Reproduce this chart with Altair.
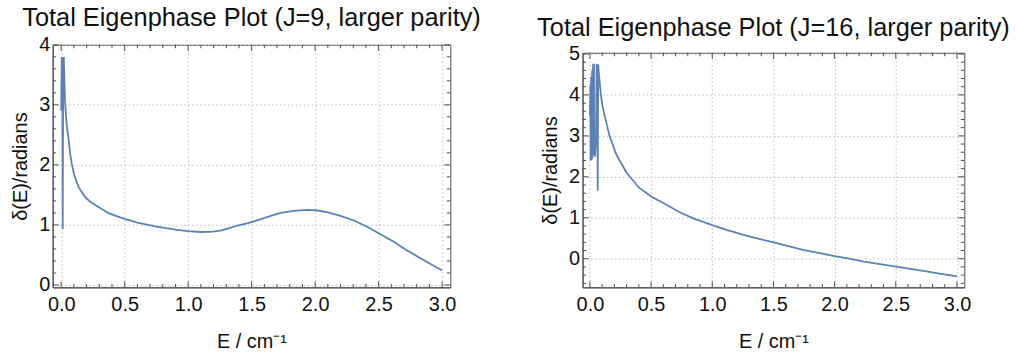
import altair as alt
import pandas as pd

# ---- data ----
E9 = [0.0, 0.004, 0.009, 0.012, 0.016, 0.021, 0.03, 0.044, 0.057, 0.07, 0.083, 0.1,
      0.12, 0.14, 0.17, 0.2, 0.24, 0.3, 0.37, 0.43, 0.5, 0.6, 0.685, 0.75, 0.815,
      0.9, 1.0, 1.1, 1.2, 1.26, 1.33, 1.39, 1.47, 1.55, 1.65, 1.73, 1.83, 1.94,
      2.02, 2.1, 2.2, 2.31, 2.41, 2.51, 2.62, 2.72, 2.85, 3.0]
D9 = [2.9, 3.78, 3.78, 0.93, 3.78, 3.78, 3.05, 2.65, 2.45, 2.2, 2.02, 1.85,
      1.72, 1.62, 1.52, 1.44, 1.37, 1.29, 1.2, 1.15, 1.1, 1.04, 1.0, 0.97, 0.95,
      0.92, 0.895, 0.882, 0.89, 0.91, 0.95, 0.99, 1.03, 1.08, 1.15, 1.2, 1.235, 1.25,
      1.24, 1.21, 1.15, 1.07, 0.97, 0.85, 0.72, 0.58, 0.42, 0.24]

E16 = [0.0, 0.004, 0.006, 0.01, 0.013, 0.018, 0.021, 0.026, 0.033, 0.036, 0.042,
       0.05, 0.055, 0.06, 0.064, 0.068, 0.074, 0.082, 0.09, 0.1, 0.12, 0.16, 0.215,
       0.3, 0.4, 0.5, 0.6, 0.73, 0.85, 1.0, 1.13, 1.27, 1.4, 1.51, 1.63, 1.75, 1.87,
       1.99, 2.12, 2.24, 2.37, 2.49, 2.62, 2.75, 2.87, 3.0]
D16 = [3.5, 4.25, 2.4, 4.45, 2.4, 4.6, 2.45, 4.74, 4.74, 2.55, 2.5,
       2.9, 4.76, 4.5, 1.66, 4.74, 4.5, 4.25, 4.0, 3.78, 3.5, 3.0, 2.55,
       2.1, 1.74, 1.52, 1.36, 1.14, 0.98, 0.82, 0.69, 0.57, 0.47, 0.39, 0.3, 0.21, 0.14,
       0.07, 0.0, -0.07, -0.13, -0.19, -0.25, -0.31, -0.37, -0.43]

TITLE9 = "Total Eigenphase Plot (J=9, larger parity)"
TITLE16 = "Total Eigenphase Plot (J=16, larger parity)"
XTITLE = "E / cm\u207b\u00b9"
YTITLE = "\u03b4(E)/radians"

X_MAJOR = [0.0, 0.5, 1.0, 1.5, 2.0, 2.5, 3.0]
X_MINOR = [round(i * 0.1, 1) for i in range(31) if i % 5]
Y9_MAJOR = [0, 1, 2, 3, 4]
Y9_MINOR = [round(i * 0.2, 1) for i in range(20) if i % 5]
Y16_MAJOR = [0, 1, 2, 3, 4, 5]
Y16_MINOR = [round(i * 0.2, 1) for i in range(-3, 25) if i % 5]

LINE = "#5e81b5"
FRAME = "#4d4d4d"
GRID = "#bcbcbc"
FONT = "Liberation Sans"
MAJ = 6
MIN = 3.5


def panel(E, D, title, xdom, ydom, ymaj, ymin, w, h):
    df = pd.DataFrame({"E": E, "d": D})
    xs = alt.Scale(domain=xdom, nice=False, zero=False)
    ys = alt.Scale(domain=ydom, nice=False, zero=False)

    def xticks(vals, size):
        src = alt.Chart(pd.DataFrame({"E": vals}))
        enc = alt.X("E:Q", scale=xs, title=XTITLE)
        mk = dict(orient="vertical", size=size, thickness=1, color=FRAME, opacity=1)
        bottom = src.mark_tick(**mk).encode(x=enc, y=alt.value(h - size / 2))
        top = src.mark_tick(**mk).encode(x=enc, y=alt.value(size / 2))
        return [bottom, top]

    def yticks(vals, size):
        src = alt.Chart(pd.DataFrame({"d": vals}))
        enc = alt.Y("d:Q", scale=ys, title=YTITLE)
        mk = dict(orient="horizontal", size=size, thickness=1, color=FRAME, opacity=1)
        left_ = src.mark_tick(**mk).encode(y=enc, x=alt.value(size / 2))
        right_ = src.mark_tick(**mk).encode(y=enc, x=alt.value(w - size / 2))
        return [left_, right_]

    main = alt.Chart(df).mark_line(color=LINE, strokeWidth=1.8).encode(
        x=alt.X("E:Q", scale=xs, title=XTITLE, axis=alt.Axis(
            values=X_MAJOR, format=".1f", title=XTITLE, grid=True, gridColor=GRID,
            gridDash=[1.5, 2.5], gridWidth=1, ticks=False, domain=True,
            domainColor=FRAME, domainWidth=1,
            labelFontSize=20, labelPadding=7, labelColor="#111", labelFont=FONT,
            labelFlush=False, titleFontSize=20, titleFont=FONT,
            titleFontWeight="normal", titleColor="#111", titlePadding=17)),
        y=alt.Y("d:Q", scale=ys, title=YTITLE, axis=alt.Axis(
            values=ymaj, format="d", title=YTITLE, grid=True, gridColor=GRID,
            gridDash=[1.5, 2.5], gridWidth=1, ticks=False, domain=True,
            domainColor=FRAME, domainWidth=1,
            labelFontSize=20, labelPadding=3, labelColor="#111", labelFont=FONT,
            labelFlush=False, titleFontSize=20, titleFont=FONT,
            titleFontWeight="normal", titleColor="#111", titlePadding=8)),
    )

    layers = xticks(X_MAJOR, MAJ) + xticks(X_MINOR, MIN) \
        + yticks(ymaj, MAJ) + yticks(ymin, MIN) + [main]
    return alt.layer(*layers).properties(
        width=w, height=h,
        title=alt.TitleParams(text=title, fontSize=25.5, font=FONT, fontWeight="normal",
                              color="#111", offset=3, anchor="middle"),
    )


left = panel(E9, D9, TITLE9, [-0.067, 3.065], [-0.04, 4.0],
             Y9_MAJOR, Y9_MINOR, 400, 244)
right = panel(E16, D16, TITLE16, [-0.06, 3.06], [-0.7, 5.03],
              Y16_MAJOR, Y16_MINOR, 384, 236)


def spacer(hgt):
    # empty strip with no text extent; the right one is 9 px taller,
    # lowering that panel as in the reference
    return alt.Chart(pd.DataFrame({"E": [0.0]})).mark_text(text="", fontSize=0).properties(
        width=1, height=hgt, view=alt.ViewBackground(stroke="transparent"))


chart = alt.hconcat(
    alt.vconcat(spacer(1), left, spacing=0),
    alt.vconcat(spacer(10), right, spacing=0),
    spacing=54,
).properties(
    padding={"left": 10, "top": 2, "right": 5, "bottom": 5}
).configure_view(stroke=FRAME, strokeWidth=1)

chart.save("out.html", embed_options={"renderer": "svg", "actions": False})
